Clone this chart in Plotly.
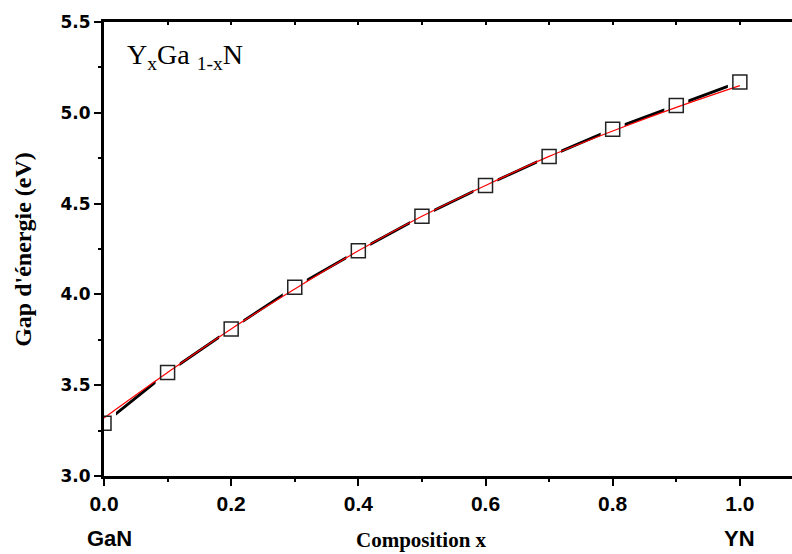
import plotly.graph_objects as go

# data
composition = [0.0, 0.1, 0.2, 0.3, 0.4, 0.5, 0.6, 0.7, 0.8, 0.9, 1.0]
gap_ev = [3.29, 3.57, 3.81, 4.04, 4.24, 4.43, 4.60, 4.76, 4.91, 5.04, 5.17]
fit_ev = [3.32, 3.57, 3.81, 4.03, 4.24, 4.43, 4.60, 4.76, 4.90, 5.03, 5.15]

x_ticks = [0.0, 0.2, 0.4, 0.6, 0.8, 1.0]
x_ticktext = ["0.0", "0.2", "0.4", "0.6", "0.8", "1.0"]
y_ticks = [3.0, 3.5, 4.0, 4.5, 5.0, 5.5]

fig = go.Figure()

# thick black connecting line
fig.add_trace(go.Scatter(x=composition, y=gap_ev, mode="lines",
                         line=dict(color="black", width=2.8),
                         showlegend=False, hoverinfo="skip"))
# white halos to create the gaps around the symbols
fig.add_trace(go.Scatter(x=composition, y=gap_ev, mode="markers",
                         marker=dict(symbol="square", size=24, color="white",
                                     line=dict(width=0)),
                         showlegend=False, hoverinfo="skip"))
# red fit line
fig.add_trace(go.Scatter(x=composition, y=fit_ev, mode="lines",
                         line=dict(color="red", width=1.2, shape="spline"),
                         showlegend=False, hoverinfo="skip"))
# open square markers
fig.add_trace(go.Scatter(x=composition, y=gap_ev, mode="markers",
                         marker=dict(symbol="square-open", size=14,
                                     color="#222", line=dict(width=1.5, color="#222")),
                         showlegend=False))
# dummy trace for the top axis
fig.add_trace(go.Scatter(x=[composition[0]], y=[gap_ev[0]], xaxis="x2", mode="markers",
                         marker=dict(size=1, opacity=0), showlegend=False, hoverinfo="skip"))

fig.update_layout(
    width=792, height=554,
    margin=dict(l=104, r=0, t=22, b=78),
    paper_bgcolor="white", plot_bgcolor="white",
    xaxis=dict(range=[0, 1.082], tickvals=x_ticks, ticktext=x_ticktext,
               showgrid=False, zeroline=False,
               showline=True, linecolor="black", linewidth=3,
               ticks="outside", ticklen=7, tickwidth=2, tickcolor="black",
               minor=dict(dtick=0.1, tick0=0, ticks="outside", ticklen=3, tickwidth=2, tickcolor="black"),
               tickfont=dict(family="Liberation Sans Narrow, Liberation Sans, Arial", size=21, color="black", weight="bold"),
               ),
    xaxis2=dict(range=[0, 1.082], overlaying="x", side="top", showgrid=False, zeroline=False,
                showline=True, linecolor="black", linewidth=3,
                ticks="inside", ticklen=3, tickwidth=1.5, tickcolor="black",
                dtick=0.1, tick0=0, showticklabels=False),
    yaxis=dict(range=[3.0, 5.5], tickvals=y_ticks, tickformat=".1f",
               showgrid=False, zeroline=False,
               showline=True, linecolor="black", linewidth=3,
               ticks="outside", ticklen=7, tickwidth=2, tickcolor="black",
               minor=dict(dtick=0.25, tick0=3.0, ticks="outside", ticklen=3, tickwidth=2, tickcolor="black"),
               tickfont=dict(family="DejaVu Sans", size=17, color="black", weight="bold"),
               ),
)

# axis titles & labels as annotations
fig.add_annotation(text="Gap d'énergie (eV)", xref="paper", yref="paper",
                   x=-0.118, y=0.5, textangle=-90, showarrow=False,
                   font=dict(family="Liberation Serif", size=24, color="black", weight="bold"),
                   xanchor="center", yanchor="middle")
fig.add_annotation(text="<b>Composition x</b>", xref="x", yref="paper",
                   x=0.5, y=-0.141, showarrow=False,
                   font=dict(family="Liberation Serif", size=21, color="black"),
                   xanchor="center", yanchor="middle")
fig.add_annotation(text="<b>GaN</b>", xref="x", yref="paper", x=0.008, y=-0.137,
                   showarrow=False, xanchor="center", yanchor="middle",
                   font=dict(family="Liberation Sans Narrow, Liberation Sans, Arial", size=22, color="black"))
fig.add_annotation(text="<b>YN</b>", xref="x", yref="paper", x=1.0, y=-0.137,
                   showarrow=False, xanchor="center", yanchor="middle",
                   font=dict(family="Liberation Sans Narrow, Liberation Sans, Arial", size=22, color="black"))
fig.add_annotation(text="Y<sub>x</sub>Ga <sub>1-x</sub>N", xref="paper", yref="paper",
                   x=0.03, y=0.925, showarrow=False, xanchor="left", yanchor="middle",
                   font=dict(family="Liberation Serif", size=28, color="black"))

fig.write_html("out.html")
